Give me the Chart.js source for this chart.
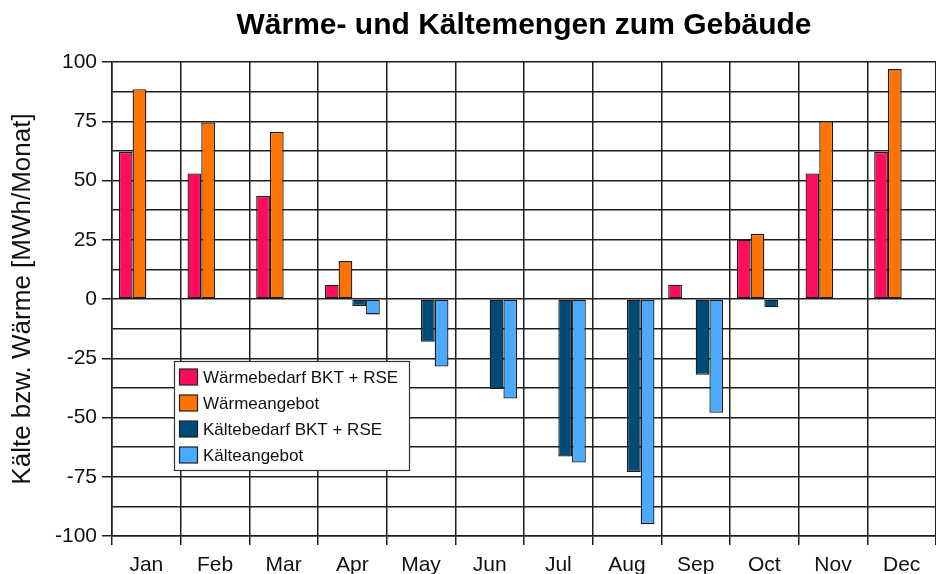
<!DOCTYPE html>
<html>
<head>
<meta charset="utf-8">
<script src="https://cdn.jsdelivr.net/npm/chart.js@4/dist/chart.umd.min.js"></script>
<style>
  html, body { margin: 0; padding: 0; background: #ffffff; }
  #wrap { width: 936px; height: 574px; }
</style>
</head>
<body>
<div id="wrap"><canvas id="c" width="936" height="574"></canvas></div>
<script>
const months = ['Jan', 'Feb', 'Mar', 'Apr', 'May', 'Jun', 'Jul', 'Aug', 'Sep', 'Oct', 'Nov', 'Dec'];
const waermebedarf = [62, 53, 43.5, 6, null, null, null, null, 6, 25, 53, 62];
const waermeangebot = [88.5, 74.5, 70.5, 16, null, null, null, null, null, 27.5, 75, 97];
const kaeltebedarf = [null, null, null, -3, -18, -38, -66.5, -73, -32, -3.5, null, null];
const kaelteangebot = [null, null, null, -6.5, -28.5, -42, -69, -95, -48, null, null, null];
const seriesNames = ['Wärmebedarf BKT + RSE', 'Wärmeangebot', 'Kältebedarf BKT + RSE', 'Kälteangebot'];
const yTickValues = [-100, -75, -50, -25, 0, 25, 50, 75, 100];

const colors = ['#FF0D5C', '#FF7300', '#004A78', '#4BA9FF'];
const FONT = "'Liberation Sans', Arial, sans-serif";
const GRID = '#1e1e1e';

const insideLegend = {
  id: 'insideLegend',
  afterDraw(chart) {
    const ctx = chart.ctx;
    const x0 = 174.5, y0 = 361.5, w = 235, h = 109;
    ctx.save();
    ctx.fillStyle = '#ffffff';
    ctx.fillRect(x0, y0, w, h);
    ctx.strokeStyle = '#333333';
    ctx.lineWidth = 1.2;
    ctx.strokeRect(x0, y0, w, h);
    ctx.font = '17px ' + FONT;
    ctx.textBaseline = 'middle';
    ctx.textAlign = 'left';
    chart.data.datasets.forEach((ds, i) => {
      const cy = 377 + i * 26;
      ctx.fillStyle = ds.backgroundColor;
      ctx.fillRect(179.5, cy - 8, 18, 16);
      ctx.strokeStyle = '#222222';
      ctx.lineWidth = 1.2;
      ctx.strokeRect(179.5, cy - 8, 18, 16);
      ctx.fillStyle = '#111111';
      ctx.fillText(ds.label, 203, cy + 1);
    });
    ctx.restore();
  }
};

const seriesData = [waermebedarf, waermeangebot, kaeltebedarf, kaelteangebot];

new Chart(document.getElementById('c'), {
  type: 'bar',
  data: {
    labels: months,
    datasets: seriesData.map((d, i) => ({
      label: seriesNames[i],
      data: d,
      backgroundColor: colors[i],
      borderColor: '#1a1a1a',
      borderWidth: 1.3,
      borderSkipped: false,
      categoryPercentage: 0.8,
      barPercentage: 1.0
    }))
  },
  options: {
    responsive: false,
    animation: false,
    devicePixelRatio: 1,
    layout: { padding: { left: 0, right: 0, top: 0, bottom: 0 } },
    plugins: {
      legend: { display: false },
      tooltip: { enabled: false },
      title: {
        display: true,
        fullSize: false,
        text: 'Wärme- und Kältemengen zum Gebäude',
        color: '#000000',
        font: { family: FONT, size: 30, weight: 'bold' },
        padding: { top: 8, bottom: 18 }
      }
    },
    scales: {
      x: {
        grid: {
          color: GRID,
          lineWidth: 1.5,
          tickLength: 9,
          tickColor: GRID,
          offset: true
        },
        border: { color: GRID, width: 1.5 },
        ticks: {
          color: '#111111',
          font: { family: FONT, size: 21 },
          padding: 8,
          maxRotation: 0,
          autoSkip: false
        },
        afterFit(scale) { scale.height = 38; }
      },
      y: {
        min: -100,
        max: 100,
        grid: {
          color: GRID,
          lineWidth: 1.5,
          tickLength: 10,
          tickColor: (ctx) => (ctx.tick && yTickValues.includes(ctx.tick.value)) ? GRID : 'rgba(0,0,0,0)'
        },
        border: { color: GRID, width: 1.5 },
        ticks: {
          stepSize: 12.5,
          autoSkip: false,
          color: '#111111',
          font: { family: FONT, size: 21 },
          padding: 5,
          callback: (v) => yTickValues.includes(v) ? String(v) : ''
        },
        title: {
          display: true,
          text: 'Kälte bzw. Wärme [MWh/Monat]',
          color: '#111111',
          font: { family: FONT, size: 26 },
          padding: { top: 7, bottom: 0 }
        },
        afterFit(scale) { scale.width = 112; }
      }
    }
  },
  plugins: [insideLegend]
});
</script>
</body>
</html>
